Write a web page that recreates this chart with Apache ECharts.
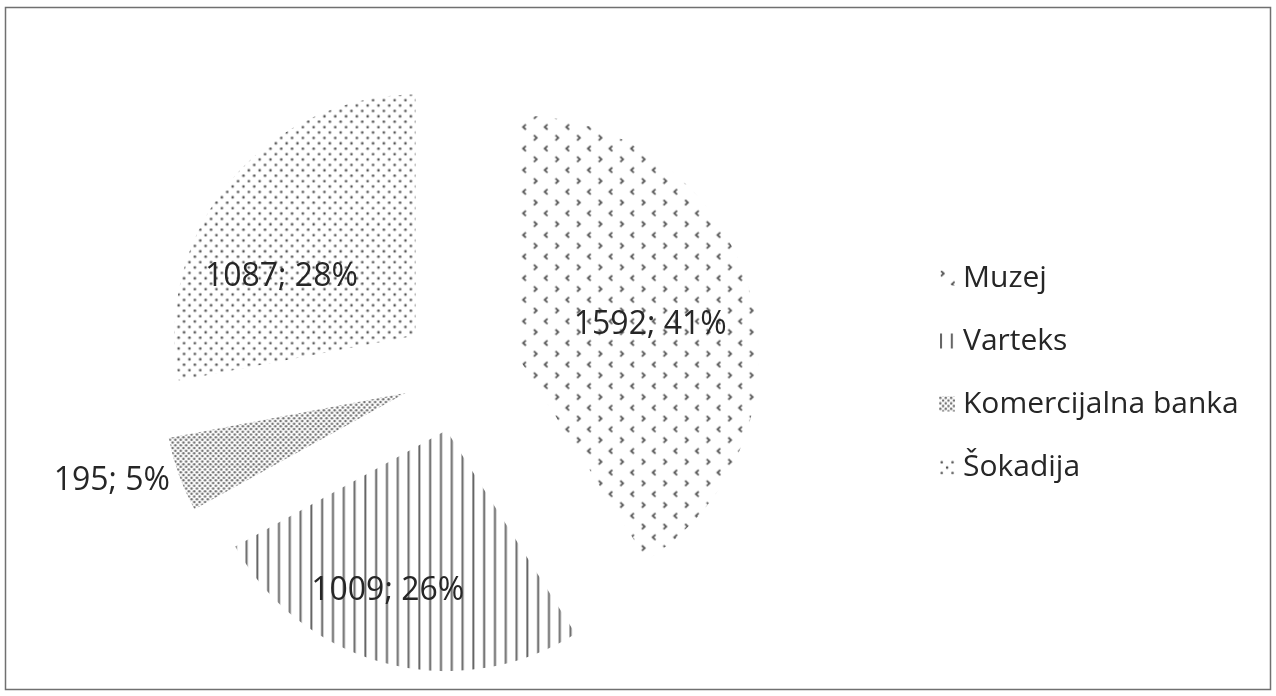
<!DOCTYPE html>
<html>
<head>
<meta charset="utf-8">
<script src="https://cdn.jsdelivr.net/npm/echarts@6/dist/echarts.min.js"></script>
<style>
html,body{margin:0;padding:0;background:#fff}
#chart{width:1276px;height:696px}
</style>
</head>
<body>
<div id="chart"></div>
<script>
// ---- data ----
const categories = ['Muzej', 'Varteks', 'Komercijalna banka', 'Šokadija'];
const values = [1592, 1009, 195, 1087];
// label nudges (px) relative to the library's own label placement
const labelShift = [[14, 3], [-28, 41], [4, 5], [-39, 20]];

// ---- pattern fills ----
const U = 2.7;
const T = 108;
function tile(draw) {
  const c = document.createElement('canvas');
  c.width = T; c.height = T;
  const g = c.getContext('2d');
  g.fillStyle = '#ffffff';
  g.fillRect(0, 0, T, T);
  draw(g);
  return c;
}
const chevronTile = tile(g => {
  g.strokeStyle = '#555555';
  g.lineWidth = 1.8;
  for (let i = 0; i < 5; i++) for (let j = 0; j < 5; j++) {
    const x = i * 8 * U + 2, y = j * 8 * U + 3;
    g.beginPath(); g.moveTo(x, y - 2.6); g.lineTo(x + 2.8, y); g.lineTo(x, y + 2.6); g.stroke();
    const x2 = x + 4 * U + 2.8, y2 = y + 4 * U;
    g.beginPath(); g.moveTo(x2, y2 - 2.6); g.lineTo(x2 - 2.8, y2); g.lineTo(x2, y2 + 2.6); g.stroke();
  }
});
const vlineTile = tile(g => {
  g.fillStyle = '#666666';
  for (let i = 0; i < 10; i++) g.fillRect(i * 4 * U + 1, 0, 2, T);
});
const checkTile = tile(g => {
  g.fillStyle = '#707070';
  for (let i = 0; i < 40; i++) for (let j = 0; j < 40; j++) {
    if ((i + j) % 2) continue;
    g.beginPath(); g.arc(i * U + U / 2, j * U + U / 2, 1.25, 0, Math.PI * 2); g.fill();
  }
});
const dotTile = tile(g => {
  g.fillStyle = '#555555';
  for (let r = 0; r < 20; r++) {
    const y = r * 2 * U + U, off = (r % 2) * 2 * U;
    for (let c = 0; c < 10; c++) {
      g.beginPath(); g.arc(c * 4 * U + off + U, y, 1.3, 0, Math.PI * 2); g.fill();
    }
  }
});
const fills = [chevronTile, vlineTile, checkTile, dotTile].map(c => ({ image: c, repeat: 'repeat' }));

const chart = echarts.init(document.getElementById('chart'), null, { renderer: 'canvas' });
chart.setOption({
  animation: false,
  backgroundColor: '#ffffff',
  graphic: [{
    type: 'rect', silent: true,
    shape: { x: 5.5, y: 7.5, width: 1265, height: 682 },
    style: { fill: null, stroke: '#707070', lineWidth: 1.5 }
  }],
  legend: {
    orient: 'vertical',
    left: 934,
    top: 258,
    itemWidth: 16,
    itemHeight: 15,
    itemGap: 33,
    icon: 'rect',
    selectedMode: false,
    textStyle: { fontFamily: 'Open Sans', fontSize: 30, lineHeight: 30, color: '#262626', padding: [0, 0, 0, 3] },
    data: categories
  },
  series: [{
    type: 'pie',
    center: [461, 373],
    radius: 241,
    startAngle: 90,
    clockwise: true,
    selectedMode: 'multiple',
    selectedOffset: 59,
    avoidLabelOverlap: false,
    silent: true,
    emphasis: { disabled: true },
    itemStyle: { borderWidth: 0 },
    label: {
      show: true,
      position: 'inside',
      fontFamily: 'Open Sans',
      fontSize: 32,
      color: '#262626',
      formatter: p => p.value + '; ' + Math.round(p.percent) + '%'
    },
    labelLine: { show: false, length: 4, length2: 4 },
    labelLayout: p => ({ dx: labelShift[p.dataIndex][0], dy: labelShift[p.dataIndex][1] }),
    data: categories.map((n, i) => ({
      name: n,
      value: values[i],
      selected: true,
      itemStyle: { color: fills[i] },
      label: i === 2 ? { position: 'outside' } : undefined
    }))
  }]
});
</script>
</body>
</html>
